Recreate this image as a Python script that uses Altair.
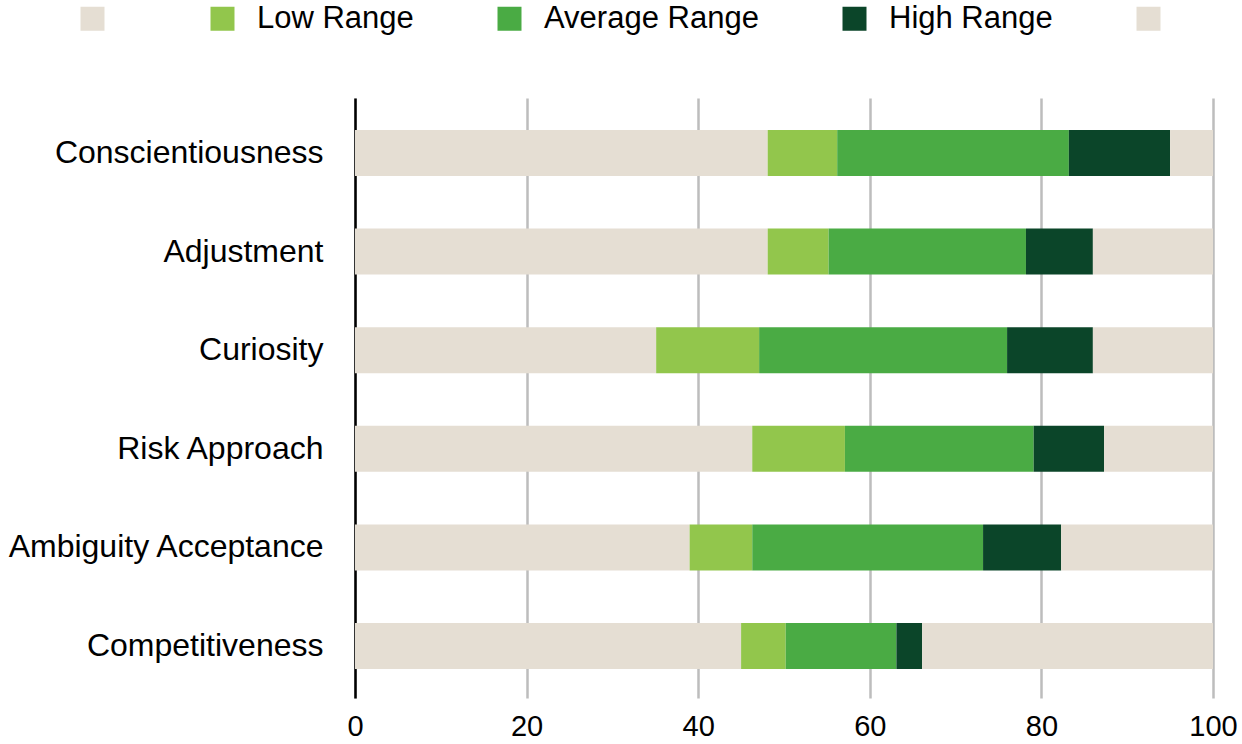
import altair as alt
import pandas as pd

categories = ["Conscientiousness", "Adjustment", "Curiosity", "Risk Approach",
              "Ambiguity Acceptance", "Competitiveness"]
base = [48.1, 48.1, 35.1, 46.3, 39.0, 45.0]
low = [8.1, 7.1, 12.0, 10.8, 7.3, 5.2]
average = [27.0, 23.0, 28.9, 22.0, 26.9, 12.9]
high = [11.8, 7.8, 10.0, 8.2, 9.1, 3.0]
rest = [5.0, 14.0, 14.0, 12.7, 17.7, 33.9]

segments = ["base", "Low Range", "Average Range", "High Range", "rest"]
colors = ["#E5DED3", "#92C64C", "#4AAB44", "#0B4529", "#E5DED3"]
x_ticks = [0, 20, 40, 60, 80, 100]

rows = []
for i, c in enumerate(categories):
    for j, (seg, arr) in enumerate(zip(segments, [base, low, average, high, rest])):
        rows.append({"category": c, "segment": seg, "value": arr[i], "idx": j})
df = pd.DataFrame(rows)

FONT = "Liberation Sans"

chart = alt.Chart(df).mark_bar().encode(
    y=alt.Y("category:N", sort=categories,
            scale=alt.Scale(paddingInner=0.5335, paddingOuter=0.3093, align=0.525),
            axis=alt.Axis(title=None, ticks=False, labelFontSize=32, labelFont=FONT,
                          labelColor="#000000", labelPadding=32, domainColor="#000000",
                          domainWidth=2.5, grid=False, labelLimit=400)),
    x=alt.X("value:Q", stack="zero",
            scale=alt.Scale(domain=[0, 100], nice=False),
            axis=alt.Axis(title=None, values=x_ticks, domain=False, ticks=False,
                          grid=True, gridColor="#BDBDBD", gridWidth=2.5,
                          labelFontSize=29, labelFont=FONT, labelColor="#000000",
                          labelPadding=14, labelFlush=False)),
    color=alt.Color("segment:N",
                    scale=alt.Scale(domain=segments, range=colors),
                    legend=alt.Legend(orient="none", legendX=-278, legendY=-95,
                                      direction="horizontal", title=None,
                                      symbolType="square", symbolSize=576,
                                      symbolStrokeWidth=0, symbolOpacity=1,
                                      labelFontSize=31, labelFont=FONT,
                                      labelColor="#000000", labelOffset=19,
                                      labelLimit=400,
                                      columnPadding=80, padding=0,
                                      labelExpr="(datum.label == 'base' || datum.label == 'rest') ? '' : datum.label")),
    order=alt.Order("idx:Q"),
).properties(
    width=858, height=600,
    background="#FFFFFF",
    autosize=alt.AutoSizeParams(type="none"),
    padding={"left": 355, "top": 98, "right": 29, "bottom": 46},
).configure_view(stroke=None)

chart.save("out.html", embed_options={"renderer": "svg", "actions": False})
